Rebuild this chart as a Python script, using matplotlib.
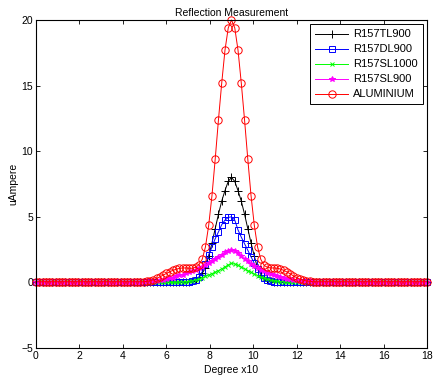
import numpy as np
import matplotlib
matplotlib.use("Agg")
import matplotlib.pyplot as plt

# sample grid (degree x10)
degree = np.round(np.arange(0, 18.01, 0.15), 2)

r157tl900 = [
    0.02, 0.02, 0.02, 0.02, 0.02, 0.02, 0.02, 0.02, 0.02, 0.02,
    0.02, 0.02, 0.02, 0.02, 0.02, 0.02, 0.02, 0.02, 0.02, 0.02,
    0.02, 0.02, 0.02, 0.02, 0.02, 0.02, 0.02, 0.02, 0.02, 0.02,
    0.02, 0.02, 0.02, 0.02, 0.02, 0.02, 0.02, 0.02, 0.02, 0.02,
    0.02, 0.02, 0.02, 0.02, 0.02, 0.02, 0.03, 0.06, 0.10, 0.20,
    0.40, 0.70, 1.10, 2.00, 3.00, 4.10, 5.20, 6.20, 7.00, 7.70,
    8.00, 7.70, 7.00, 6.20, 5.20, 4.10, 3.00, 2.00, 1.10, 0.60,
    0.30, 0.15, 0.08, 0.05, 0.02, 0.02, 0.02, 0.02, 0.02, 0.02,
    0.02, 0.02, 0.02, 0.02, 0.02, 0.02, 0.02, 0.02, 0.02, 0.02,
    0.02, 0.02, 0.02, 0.02, 0.02, 0.02, 0.02, 0.02, 0.02, 0.02,
    0.02, 0.02, 0.02, 0.02, 0.02, 0.02, 0.02, 0.02, 0.02, 0.02,
    0.02, 0.02, 0.02, 0.02, 0.02, 0.02, 0.02, 0.02, 0.02, 0.02,
    0.02,
]

r157dl900 = [
    0.02, 0.02, 0.02, 0.02, 0.02, 0.02, 0.02, 0.02, 0.02, 0.02,
    0.02, 0.02, 0.02, 0.02, 0.02, 0.02, 0.02, 0.02, 0.02, 0.02,
    0.02, 0.02, 0.02, 0.02, 0.02, 0.02, 0.02, 0.02, 0.02, 0.02,
    0.02, 0.02, 0.02, 0.02, 0.02, 0.02, 0.02, 0.02, 0.02, 0.02,
    0.02, 0.02, 0.02, 0.02, 0.02, 0.02, 0.03, 0.06, 0.10, 0.18,
    0.40, 0.80, 1.43, 2.06, 2.70, 3.33, 3.85, 4.40, 4.75, 4.95,
    5.00, 4.75, 4.00, 3.45, 2.95, 2.45, 1.95, 1.45, 1.05, 0.65,
    0.35, 0.18, 0.10, 0.05, 0.02, 0.02, 0.02, 0.02, 0.02, 0.02,
    0.02, 0.02, 0.02, 0.02, 0.02, 0.02, 0.02, 0.02, 0.02, 0.02,
    0.02, 0.02, 0.02, 0.02, 0.02, 0.02, 0.02, 0.02, 0.02, 0.02,
    0.02, 0.02, 0.02, 0.02, 0.02, 0.02, 0.02, 0.02, 0.02, 0.02,
    0.02, 0.02, 0.02, 0.02, 0.02, 0.02, 0.02, 0.02, 0.02, 0.02,
    0.02,
]

r157sl1000 = [
    0.00, 0.00, 0.00, 0.00, 0.00, 0.00, 0.00, 0.00, 0.00, 0.00,
    0.00, 0.00, 0.00, 0.00, 0.00, 0.00, 0.00, 0.00, 0.00, 0.00,
    0.00, 0.00, 0.00, 0.00, 0.00, 0.00, 0.00, 0.00, 0.00, 0.00,
    0.00, 0.00, 0.00, 0.00, 0.00, 0.00, 0.00, 0.00, 0.00, 0.00,
    0.00, 0.00, 0.00, 0.00, 0.02, 0.03, 0.05, 0.08, 0.12, 0.18,
    0.26, 0.35, 0.45, 0.56, 0.67, 0.78, 0.90, 1.03, 1.18, 1.33,
    1.45, 1.40, 1.30, 1.17, 1.03, 0.90, 0.77, 0.64, 0.52, 0.42,
    0.33, 0.25, 0.18, 0.13, 0.09, 0.06, 0.04, 0.02, 0.02, 0.02,
    0.02, 0.02, 0.02, 0.02, 0.02, 0.02, 0.02, 0.02, 0.02, 0.02,
    0.02, 0.02, 0.02, 0.02, 0.02, 0.02, 0.02, 0.02, 0.02, 0.02,
    0.02, 0.02, 0.02, 0.02, 0.02, 0.02, 0.02, 0.02, 0.02, 0.02,
    0.02, 0.02, 0.02, 0.02, 0.02, 0.02, 0.02, 0.02, 0.02, 0.02,
    0.02,
]

r157sl900 = [
    0.05, 0.05, 0.05, 0.05, 0.05, 0.05, 0.05, 0.05, 0.05, 0.05,
    0.05, 0.05, 0.05, 0.05, 0.05, 0.05, 0.05, 0.05, 0.05, 0.05,
    0.05, 0.05, 0.05, 0.05, 0.05, 0.05, 0.05, 0.05, 0.05, 0.05,
    0.05, 0.05, 0.05, 0.05, 0.07, 0.09, 0.11, 0.13, 0.16, 0.20,
    0.25, 0.30, 0.37, 0.45, 0.53, 0.60, 0.68, 0.77, 0.87, 0.97,
    1.08, 1.20, 1.33, 1.47, 1.62, 1.78, 1.93, 2.10, 2.28, 2.42,
    2.50, 2.42, 2.25, 2.00, 1.80, 1.60, 1.42, 1.26, 1.10, 0.96,
    0.84, 0.73, 0.63, 0.54, 0.46, 0.39, 0.33, 0.28, 0.23, 0.19,
    0.16, 0.13, 0.11, 0.09, 0.07, 0.05, 0.05, 0.05, 0.05, 0.05,
    0.05, 0.05, 0.05, 0.05, 0.05, 0.05, 0.05, 0.05, 0.05, 0.05,
    0.05, 0.05, 0.05, 0.05, 0.05, 0.05, 0.05, 0.05, 0.05, 0.05,
    0.05, 0.05, 0.05, 0.05, 0.05, 0.05, 0.05, 0.05, 0.05, 0.05,
    0.05,
]

aluminium = [
    0.05, 0.05, 0.05, 0.05, 0.05, 0.05, 0.05, 0.05, 0.05, 0.05,
    0.05, 0.05, 0.05, 0.05, 0.05, 0.05, 0.05, 0.05, 0.05, 0.05,
    0.05, 0.05, 0.05, 0.05, 0.05, 0.05, 0.05, 0.05, 0.05, 0.05,
    0.05, 0.05, 0.05, 0.05, 0.08, 0.12, 0.20, 0.30, 0.42, 0.55,
    0.68, 0.80, 0.92, 1.00, 1.07, 1.10, 1.10, 1.08, 1.08, 1.15,
    1.35, 1.75, 2.70, 4.35, 6.60, 9.40, 12.40, 15.20, 17.70, 19.40,
    20.00, 19.40, 17.70, 15.20, 12.40, 9.40, 6.60, 4.35, 2.70, 1.75,
    1.30, 1.15, 1.10, 1.10, 1.08, 1.02, 0.92, 0.80, 0.65, 0.50,
    0.36, 0.25, 0.17, 0.11, 0.08, 0.05, 0.05, 0.05, 0.05, 0.05,
    0.05, 0.05, 0.05, 0.05, 0.05, 0.05, 0.05, 0.05, 0.05, 0.05,
    0.05, 0.05, 0.05, 0.05, 0.05, 0.05, 0.05, 0.05, 0.05, 0.05,
    0.05, 0.05, 0.05, 0.05, 0.05, 0.05, 0.05, 0.05, 0.05, 0.05,
    0.05,
]

series = [
    ("R157TL900", r157tl900, "k", "+", 6),
    ("R157DL900", r157dl900, "#0000ff", "s", 5),
    ("R157SL1000", r157sl1000, "#00ff00", "x", 3),
    ("R157SL900", r157sl900, "#ff00ff", "*", 4),
    ("ALUMINIUM", aluminium, "#ff0000", "o", 5.3),
]

plt.rcParams["font.family"] = ["Liberation Sans", "DejaVu Sans"]
plt.rcParams["font.size"] = 7.5

fig = plt.figure(figsize=(4.39, 3.83), dpi=100)
ax = fig.add_axes([36 / 439, 35 / 383, 391 / 439, 328 / 383])

for name, vals, col, mk, ms in series:
    face = col if mk == "*" else "none"
    ax.plot(degree, vals, color=col, marker=mk, markersize=ms,
            markerfacecolor=face, markeredgewidth=0.7, linewidth=0.7,
            label=name, clip_on=False)

ax.set_xlim(0, 18)
ax.set_ylim(-5, 20)
ax.set_xticks(range(0, 19, 2))
ax.set_yticks(range(-5, 21, 5))
ax.tick_params(direction="in", top=True, right=True, length=3, width=0.6,
               pad=2, labelsize=7.5)
for sp in ax.spines.values():
    sp.set_linewidth(0.8)

ax.set_title("Reflection Measurement", fontsize=7.5, pad=3)
ax.set_xlabel("Degree x10", labelpad=3)
ax.set_ylabel("uAmpere", labelpad=2)

leg = ax.legend(loc="upper right", fancybox=False, framealpha=1,
                edgecolor="k", handlelength=3, borderaxespad=0.4,
                labelspacing=0.45, handletextpad=0.4, borderpad=0.45,
                prop={"size": 8})
leg.get_frame().set_linewidth(0.7)

fig.savefig("out.png", dpi=100, facecolor="white")
